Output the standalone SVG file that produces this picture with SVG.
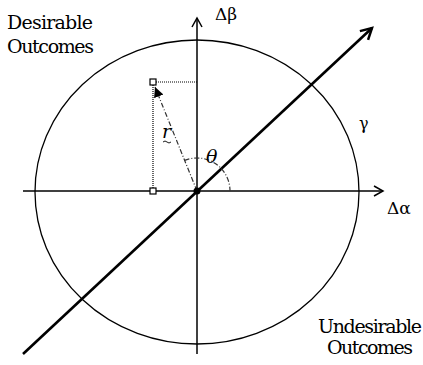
<svg xmlns="http://www.w3.org/2000/svg" width="423" height="365" viewBox="0 0 423 365">
<style>
text{font-family:"DejaVu Serif","Liberation Serif",serif;fill:#000}
.ax{stroke:#000;stroke-width:1.5;fill:none}
.dot{stroke:#000;stroke-width:1.2;stroke-dasharray:1,1;fill:none}
.dd{stroke:#333;stroke-width:1.2;stroke-dasharray:5,2,1,2;fill:none}
</style>
<defs>
<marker id="open" markerWidth="12" markerHeight="12" refX="10" refY="6" orient="auto" markerUnits="userSpaceOnUse">
<path d="M1,1 L10,6 L1,11" fill="none" stroke="#000" stroke-width="1.5"/>
</marker>
<marker id="openb" markerWidth="16" markerHeight="16" refX="13" refY="8" orient="auto" markerUnits="userSpaceOnUse">
<path d="M2,2 L13,8 L2,14" fill="none" stroke="#000" stroke-width="2.5"/>
</marker>
<marker id="fill" markerWidth="12" markerHeight="12" refX="10" refY="5" orient="auto" markerUnits="userSpaceOnUse">
<path d="M0,0 L10,5 L0,10 Z" fill="#000"/>
</marker>
</defs>
<g id="circle"><ellipse cx="197" cy="192" rx="162" ry="152" fill="none" stroke="#000" stroke-width="1.3"/></g>
<g id="connectors">
<line class="ax" x1="23" y1="191" x2="383" y2="191" marker-end="url(#open)"/>
<line class="ax" x1="197" y1="354" x2="197" y2="18" marker-end="url(#open)"/>
<line x1="23" y1="354" x2="372" y2="28" stroke="#000" stroke-width="2.6" marker-end="url(#openb)"/>
<line class="dot" x1="156" y1="82" x2="197" y2="82"/>
<line class="dot" x1="153" y1="85" x2="153" y2="188"/>
<line class="dd" x1="197" y1="191" x2="155" y2="87" marker-end="url(#fill)"/>
<path class="dd" d="M184.6,160.4 A33,33 0 0 1 230,191"/>
</g>
<g id="origin"><circle cx="197" cy="191" r="3.5" fill="#000"/></g>
<g id="p1"><rect x="150" y="79" width="6" height="6" fill="#fff" stroke="#000" stroke-width="1.2"/></g>
<g id="p2"><rect x="150" y="188" width="6" height="6" fill="#fff" stroke="#000" stroke-width="1.2"/></g>
<g id="labels">
<text x="7" y="29" font-size="19" textLength="86">Desirable</text>
<text x="7" y="53" font-size="19" textLength="87">Outcomes</text>
<text x="370" y="333" font-size="19" text-anchor="middle" textLength="104">Undesirable</text>
<text x="370" y="354" font-size="19" text-anchor="middle" textLength="86">Outcomes</text>
<text x="215" y="20" font-size="17">Δβ</text>
<text x="387" y="214" font-size="17">Δα</text>
<text x="359" y="129" font-size="16">γ</text>
<text x="162" y="138" font-size="19" font-style="italic">r</text>
<path d="M163,142 q2,-2 4,0 t4,0" fill="none" stroke="#000" stroke-width="0.9"/>
<text x="206" y="163" font-size="19" font-style="italic">θ</text>
</g>
</svg>
